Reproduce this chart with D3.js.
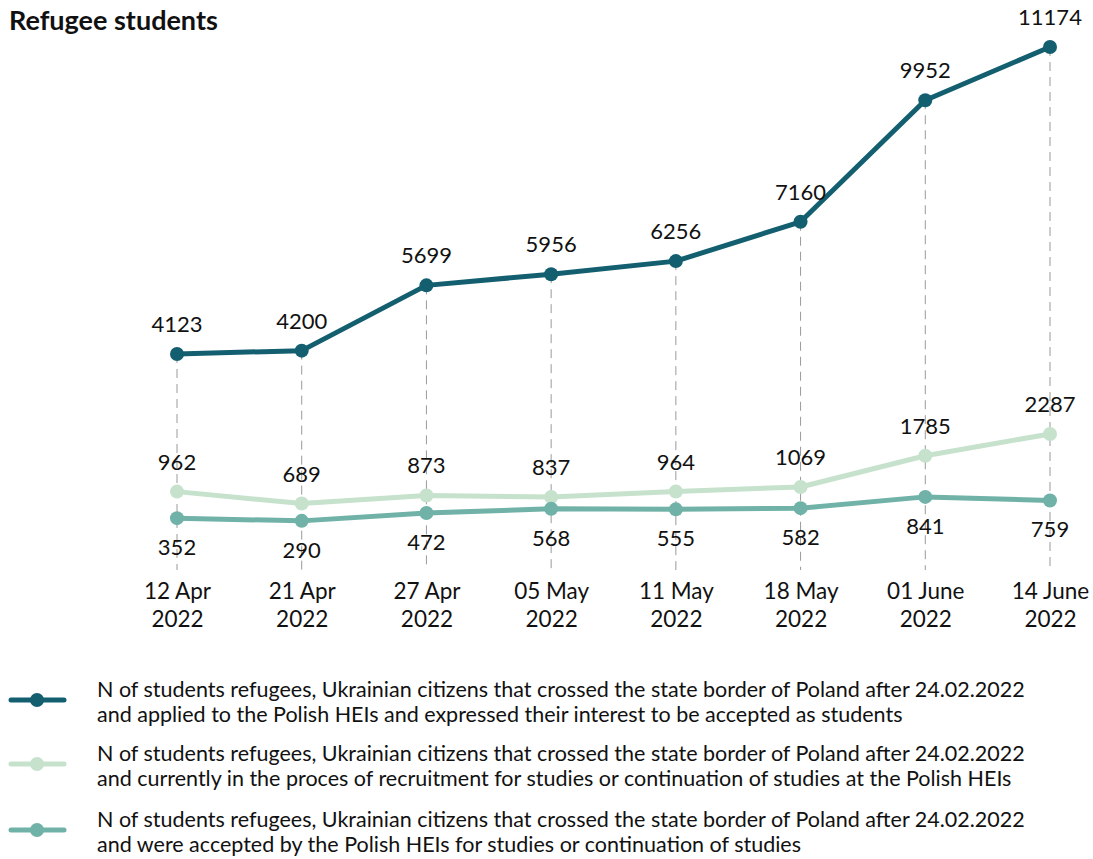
<!DOCTYPE html>
<html>
<head>
<meta charset="utf-8">
<script src="https://cdn.jsdelivr.net/npm/d3@7"></script>
<style>
  body { margin: 0; background: #fff; font-family: Lato, "Noto Sans", sans-serif; }
  svg text { font-family: Lato, "Noto Sans", sans-serif; fill: #111; }
</style>
</head>
<body>
<div id="chart"></div>
<script>
const dates = ["12 Apr 2022", "21 Apr 2022", "27 Apr 2022", "05 May 2022", "11 May 2022", "18 May 2022", "01 June 2022", "14 June 2022"];
const applied = [4123, 4200, 5699, 5956, 6256, 7160, 9952, 11174];
const recruiting = [962, 689, 873, 837, 964, 1069, 1785, 2287];
const accepted = [352, 290, 472, 568, 555, 582, 841, 759];

const legendLabels = [
    ["N of students refugees, Ukrainian citizens that crossed the state border of Poland after 24.02.2022",
     "and applied to the Polish HEIs and expressed their interest to be accepted as students"],
    ["N of students refugees, Ukrainian citizens that crossed the state border of Poland after 24.02.2022",
     "and currently in the proces of recruitment for studies or continuation of studies at the Polish HEIs"],
    ["N of students refugees, Ukrainian citizens that crossed the state border of Poland after 24.02.2022",
     "and were accepted by the Polish HEIs for studies or continuation of studies"]
];

const series = [
    { values: applied, color: "#135f70", labelPos: "above" },
    { values: recruiting, color: "#c6e2cc", labelPos: "above" },
    { values: accepted, color: "#70b2a7", labelPos: "below" }
];

const W = 1093, H = 859;
const svg = d3.select("#chart").append("svg")
    .attr("width", W).attr("height", H);

// title
svg.append("text")
    .attr("x", 9).attr("y", 30)
    .style("font-size", "27px").style("font-weight", "bold")
    .text("Refugee students");

// scales
const x = d3.scalePoint()
    .domain(dates)
    .range([177, 1050]);

const y = d3.scaleLinear()
    .domain([0, 11174])
    .range([533.5, 47]);

// dashed guides from the top series down to the axis labels
svg.append("g").selectAll("line")
    .data(dates)
    .join("line")
    .attr("x1", d => x(d)).attr("x2", d => x(d))
    .attr("y1", (d, i) => y(applied[i]))
    .attr("y2", 570)
    .attr("stroke", "#9a9a9a")
    .attr("stroke-width", 1)
    .attr("stroke-dasharray", "9,6");

// x axis labels (two lines)
const xAxis = svg.append("g")
    .attr("transform", "translate(0,580)")
    .call(d3.axisBottom(x).tickSize(0).tickPadding(0));
xAxis.select(".domain").remove();
xAxis.selectAll(".tick text").each(function(d) {
    const parts = d.split(" ");
    const t = d3.select(this).text(null)
        .attr("y", 0)
        .style("font-size", "22.5px")
        .attr("fill", "#111");
    t.append("tspan").attr("x", 0).attr("dy", "19").text(parts[0] + " " + parts[1]);
    t.append("tspan").attr("x", 0).attr("dy", "28").text(parts[2]);
});

// lines, points, value labels
const line = d3.line()
    .x((d, i) => x(dates[i]))
    .y(d => y(d));

// draw order: light, medium, then dark on top
[series[1], series[2], series[0]].forEach(s => {
    const g = svg.append("g");
    g.append("path")
        .datum(s.values)
        .attr("d", line)
        .attr("fill", "none")
        .attr("stroke", s.color)
        .attr("stroke-width", 5)
        .attr("stroke-linejoin", "round");
    g.selectAll("circle")
        .data(s.values)
        .join("circle")
        .attr("cx", (d, i) => x(dates[i]))
        .attr("cy", d => y(d))
        .attr("r", 7)
        .attr("fill", s.color);
    g.selectAll("text")
        .data(s.values)
        .join("text")
        .attr("x", (d, i) => x(dates[i]))
        .attr("y", d => s.labelPos === "above" ? y(d) - 22 : y(d) + 37)
        .attr("text-anchor", "middle")
        .style("font-size", "22px")
        .text(d => d);
});

// legend
const legend = svg.append("g");
const legendY = [700, 764, 830];
series.forEach((s, i) => {
    const ly = legendY[i];
    legend.append("line")
        .attr("x1", 11).attr("x2", 64)
        .attr("y1", ly).attr("y2", ly)
        .attr("stroke", s.color)
        .attr("stroke-width", 5)
        .attr("stroke-linecap", "round");
    legend.append("circle")
        .attr("cx", 37).attr("cy", ly).attr("r", 7)
        .attr("fill", s.color);
    legendLabels[i].forEach((txt, j) => {
        legend.append("text")
            .attr("x", 97)
            .attr("y", ly - 3 + j * 24.5)
            .style("font-size", "21.5px")
            .text(txt);
    });
});
</script>
</body>
</html>
